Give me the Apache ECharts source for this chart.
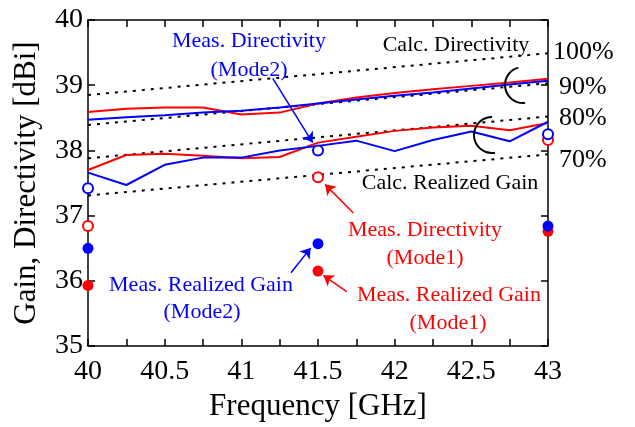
<!DOCTYPE html>
<html>
<head>
<meta charset="utf-8">
<script src="https://cdn.jsdelivr.net/npm/echarts@6/dist/echarts.min.js"></script>
<style>
html,body{margin:0;padding:0;background:#fff;}
#chart{width:635px;height:427px;}
</style>
</head>
<body>
<div id="chart"></div>
<script>
// ---- data ----
const freq = [40, 40.25, 40.5, 40.75, 41, 41.25, 41.5, 41.75, 42, 42.25, 42.5, 42.75, 43];
const calcDirMode1  = [38.59, 38.64, 38.66, 38.66, 38.55, 38.58, 38.72, 38.81, 38.88, 38.94, 38.99, 39.04, 39.10];
const calcDirMode2  = [38.47, 38.51, 38.54, 38.58, 38.61, 38.66, 38.72, 38.78, 38.84, 38.89, 38.95, 39.01, 39.07];
const calcGainMode1 = [37.70, 37.93, 37.95, 37.92, 37.88, 37.90, 38.12, 38.21, 38.30, 38.35, 38.38, 38.31, 38.42];
const calcGainMode2 = [37.66, 37.47, 37.78, 37.89, 37.89, 38.00, 38.07, 38.15, 37.99, 38.16, 38.29, 38.14, 38.44];

const effFreq = [40, 43];
const eff100 = [38.85, 39.49];
const eff90  = [38.39, 39.03];
const eff80  = [37.88, 38.52];
const eff70  = [37.31, 37.94];

const measFreq = [40, 41.5, 43];
const measDirMode1  = [36.84, 37.59, 38.16];
const measDirMode2  = [37.42, 38.00, 38.25];
const measGainMode1 = [35.93, 36.15, 36.76];
const measGainMode2 = [36.50, 36.57, 36.84];

const xTicks = [40, 40.5, 41, 41.5, 42, 42.5, 43];
const yTicks = [35, 36, 37, 38, 39, 40];

// ---- helpers ----
const zip = (xs, ys) => xs.map((x, i) => [x, ys[i]]);
const FONT = 'Liberation Serif';
const RED = '#ff0000', BLUE = '#0000ff';

function lineSeries(ys, color) {
  return { type: 'line', data: zip(freq, ys), symbol: 'none', smooth: false,
    lineStyle: { color: color, width: 2 }, itemStyle: { color: color }, z: 3, clip: false };
}
function dotted(ys) {
  return { type: 'line', data: zip(effFreq, ys), symbol: 'none',
    lineStyle: { color: '#000', width: 2, type: [3, 6] }, itemStyle: { color: '#000' }, z: 2 };
}
function scatter(ys, color, open) {
  return { type: 'scatter', data: zip(measFreq, ys), clip: false, z: 5,
    symbol: open ? 'emptyCircle' : 'circle', symbolSize: open ? 10 : 11,
    itemStyle: open ? { color: color, borderColor: color, borderWidth: 2, opacity: 1 } : { color: color, opacity: 1 } };
}
function arrow(from, to, color) {
  return [
    { coord: from, lineStyle: { color: color, width: 1.5, type: 'solid' }, itemStyle: { color: color } },
    { coord: to, lineStyle: { color: color }, itemStyle: { color: color } }
  ];
}

const chart = echarts.init(document.getElementById('chart'), null, { renderer: 'canvas' });

const axisCommon = {
  axisLine: { show: true, lineStyle: { color: '#000', width: 1.5 } },
  splitLine: { show: false }
};
const tickStyle = { color: '#000', width: 1.5 };

function txt(x, y, text, color, size, align) {
  return { type: 'text', x: x, y: y, z: 20,
    style: { text: text, fontFamily: FONT, fontSize: size || 22, fill: color, align: align || 'center', verticalAlign: 'middle' } };
}

const option = {
  animation: false,
  backgroundColor: '#fff',
  grid: { left: 88, right: 87, top: 20, bottom: 78, containLabel: false },
  xAxis: [
    Object.assign({
      type: 'value', min: xTicks[0], max: xTicks[xTicks.length - 1], interval: 0.5,
      position: 'bottom',
      name: 'Frequency [GHz]', nameLocation: 'middle', nameGap: 42,
      nameTextStyle: { fontFamily: FONT, fontSize: 31, color: '#000' },
      axisTick: { show: true, inside: true, length: 7, lineStyle: tickStyle },
      minorTick: { show: true, splitNumber: 2, length: 7, lineStyle: tickStyle },
      axisLabel: { fontFamily: FONT, fontSize: 28, color: '#000', margin: 12 }
    }, axisCommon),
    Object.assign({
      type: 'value', min: xTicks[0], max: xTicks[xTicks.length - 1], interval: 0.5,
      position: 'top',
      axisTick: { show: true, inside: true, length: 7, lineStyle: tickStyle },
      minorTick: { show: true, splitNumber: 2, length: 7, lineStyle: tickStyle },
      axisLabel: { show: false }
    }, axisCommon)
  ],
  yAxis: [
    Object.assign({
      type: 'value', min: yTicks[0], max: yTicks[yTicks.length - 1], interval: 1,
      position: 'left',
      name: 'Gain, Directivity [dBi]', nameLocation: 'middle', nameGap: 46,
      nameTextStyle: { fontFamily: FONT, fontSize: 31, color: '#000' },
      axisTick: { show: true, inside: true, length: 7, lineStyle: tickStyle },
      axisLabel: { fontFamily: FONT, fontSize: 28, color: '#000', margin: 5 }
    }, axisCommon),
    Object.assign({
      type: 'value', min: yTicks[0], max: yTicks[yTicks.length - 1], interval: 1,
      position: 'right',
      axisTick: { show: true, inside: true, length: 7, lineStyle: tickStyle },
      axisLabel: { show: false }
    }, axisCommon)
  ],
  series: [
    dotted(eff100), dotted(eff90), dotted(eff80), dotted(eff70),
    lineSeries(calcDirMode1, RED), lineSeries(calcDirMode2, BLUE),
    lineSeries(calcGainMode1, RED), lineSeries(calcGainMode2, BLUE),
    scatter(measDirMode1, RED, true), scatter(measDirMode2, BLUE, true),
    scatter(measGainMode1, RED, false), scatter(measGainMode2, BLUE, false),
    {
      type: 'line', data: [], silent: true, z: 6,
      markLine: {
        silent: true, animation: false,
        symbol: ['none', 'arrow'], symbolSize: 10,
        label: { show: false },
        emphasis: { disabled: true },
        data: [
          arrow([41.205, 39.106], [41.465, 38.12], BLUE),
          arrow([41.730, 37.04], [41.546, 37.48], RED),
          arrow([41.324, 36.125], [41.452, 36.506], BLUE),
          arrow([41.687, 35.836], [41.535, 36.085], RED)
        ]
      }
    }
  ],
  graphic: [
    txt(249, 41, 'Meas. Directivity', BLUE),
    txt(249, 70, '(Mode2)', BLUE),
    txt(456, 45, 'Calc. Directivity', '#000'),
    txt(450, 183, 'Calc. Realized Gain', '#000'),
    txt(425, 230, 'Meas. Directivity', RED),
    txt(425, 258, '(Mode1)', RED),
    txt(201, 285, 'Meas. Realized Gain', BLUE),
    txt(202, 312, '(Mode2)', BLUE),
    txt(449, 295, 'Meas. Realized Gain', RED),
    txt(448, 323, '(Mode1)', RED),
    txt(553, 52, '100%', '#000', 26, 'left'),
    txt(559, 87, '90%', '#000', 26, 'left'),
    txt(559, 118, '80%', '#000', 26, 'left'),
    txt(559, 160, '70%', '#000', 26, 'left'),
    { type: 'arc', z: 10, shape: { cx: 523, cy: 85, r: 18, startAngle: 1.45, endAngle: 4.45, clockwise: true }, style: { stroke: '#000', fill: 'none', lineWidth: 2 } },
    { type: 'arc', z: 10, shape: { cx: 492, cy: 135, r: 18, startAngle: 1.4, endAngle: 4.72, clockwise: true }, style: { stroke: '#000', fill: 'none', lineWidth: 2 } }
  ]
};
chart.setOption(option);
</script>
</body>
</html>
